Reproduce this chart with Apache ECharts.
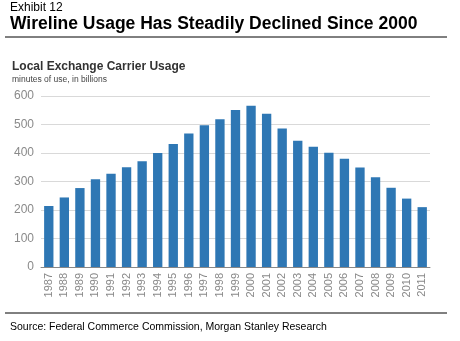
<!DOCTYPE html>
<html><head><meta charset="utf-8">
<script src="https://cdn.jsdelivr.net/npm/echarts@6/dist/echarts.min.js"></script>
<style>html,body{margin:0;padding:0;background:#fff}#c{width:460px;height:341px}</style>
</head><body><div id="c"></div>
<script>
const years = ['1987','1988','1989','1990','1991','1992','1993','1994','1995','1996','1997','1998','1999','2000','2001','2002','2003','2004','2005','2006','2007','2008','2009','2010','2011'];
const usage = [214,244,277,308,327,350,371,400,432,468,497,518,551,566,538,486,443,422,401,380,349,315,278,240,210];
const yTicks = [0,100,200,300,400,500,600];

const chart = echarts.init(document.getElementById('c'));
const F = 'Liberation Sans, Arial, sans-serif';
chart.setOption({
  animation:false,
  title:[
    {text:'Exhibit 12', left:10, top:2, padding:0, textStyle:{fontFamily:F,fontSize:12,fontWeight:'normal',color:'#000'}},
    {text:'Wireline Usage Has Steadily Declined Since 2000', left:10, top:15, padding:0, textStyle:{fontFamily:F,fontSize:17.5,fontWeight:'bold',color:'#000'}},
    {text:'Local Exchange Carrier Usage', left:12, top:61, padding:0, textStyle:{fontFamily:F,fontSize:12,fontWeight:'bold',color:'#333'}},
    {text:'minutes of use, in billions', left:12, top:75, padding:0, textStyle:{fontFamily:F,fontSize:8.5,fontWeight:'normal',color:'#444'}},
    {text:'Source: Federal Commerce Commission, Morgan Stanley Research', left:10, top:322, padding:0, textStyle:{fontFamily:F,fontSize:10.5,fontWeight:'normal',color:'#000'}}
  ],
  graphic:[
    {type:'line', shape:{x1:5,y1:37,x2:447,y2:37}, style:{stroke:'#000',lineWidth:1}},
    {type:'line', shape:{x1:5,y1:313,x2:447,y2:313}, style:{stroke:'#000',lineWidth:1}}
  ],
  grid:{left:41, right:30, top:96, bottom:74},
  xAxis:{type:'category', data:years,
    axisLine:{lineStyle:{color:'#888'}}, axisTick:{show:false},
    axisLabel:{rotate:90, interval:0, fontFamily:F, fontSize:11, color:'#888', margin:6}},
  yAxis:{type:'value', min:0, max:600, interval:100,
    axisLine:{show:false}, axisTick:{show:false},
    splitLine:{lineStyle:{color:'#d9d9d9'}},
    axisLabel:{fontFamily:F, fontSize:12, color:'#8a8a8a', margin:7,
      formatter:v=>yTicks.includes(v)?String(v):''}},
  series:[{type:'bar', data:usage, barCategoryGap:'40%', itemStyle:{color:'#2e77b4'}}]
});
</script></body></html>
